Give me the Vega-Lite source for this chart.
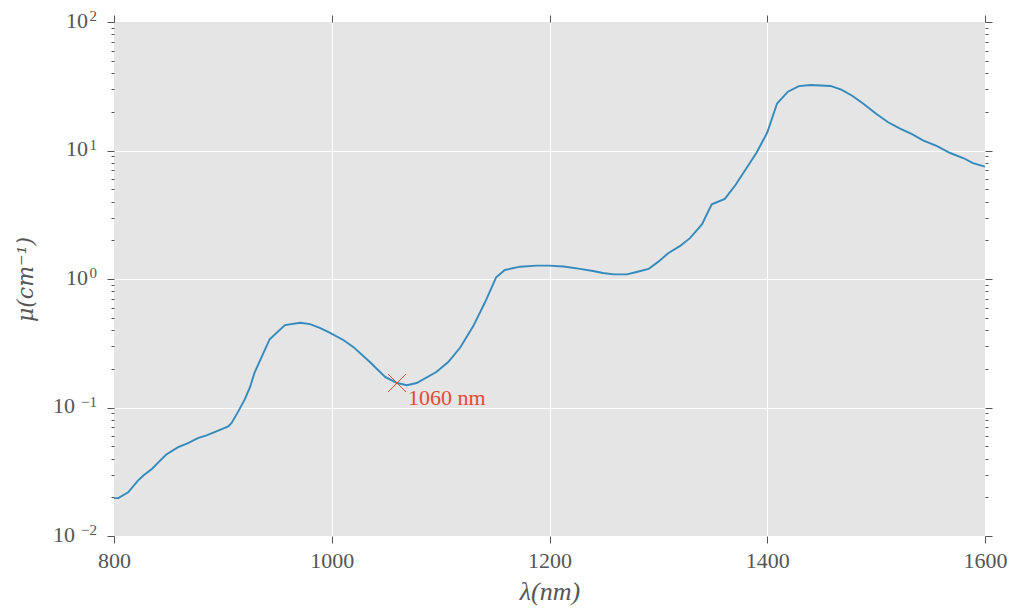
{
  "$schema": "https://vega.github.io/schema/vega-lite/v6.json",
  "width": 871,
  "height": 514,
  "autosize": "none",
  "padding": {"left": 114, "top": 22, "right": 25, "bottom": 72},
  "background": "white",
  "config": {
    "view": {"fill": "#E5E5E5", "stroke": null},
    "font": "Liberation Serif"
  },
  "datasets": {
    "absorption": [
      {"nm": 800, "mu": 0.0197}, {"nm": 804, "mu": 0.0197}, {"nm": 813, "mu": 0.0219},
      {"nm": 822, "mu": 0.027}, {"nm": 827, "mu": 0.0296}, {"nm": 835, "mu": 0.0334},
      {"nm": 841, "mu": 0.0376}, {"nm": 848, "mu": 0.0431}, {"nm": 859, "mu": 0.0492},
      {"nm": 868, "mu": 0.0529}, {"nm": 877, "mu": 0.0578}, {"nm": 885, "mu": 0.0607},
      {"nm": 894, "mu": 0.0652}, {"nm": 905, "mu": 0.0713}, {"nm": 908, "mu": 0.0757},
      {"nm": 913, "mu": 0.0896}, {"nm": 920, "mu": 0.115}, {"nm": 925, "mu": 0.1445},
      {"nm": 929, "mu": 0.186}, {"nm": 937, "mu": 0.263}, {"nm": 943, "mu": 0.34},
      {"nm": 957, "mu": 0.438}, {"nm": 971, "mu": 0.456}, {"nm": 980, "mu": 0.446},
      {"nm": 989, "mu": 0.417}, {"nm": 998, "mu": 0.383}, {"nm": 1011, "mu": 0.334},
      {"nm": 1020, "mu": 0.295}, {"nm": 1035, "mu": 0.226}, {"nm": 1049, "mu": 0.173},
      {"nm": 1060, "mu": 0.155}, {"nm": 1069, "mu": 0.149}, {"nm": 1078, "mu": 0.155},
      {"nm": 1096, "mu": 0.189}, {"nm": 1107, "mu": 0.226}, {"nm": 1118, "mu": 0.293},
      {"nm": 1130, "mu": 0.43}, {"nm": 1141, "mu": 0.665}, {"nm": 1151, "mu": 1.03},
      {"nm": 1159, "mu": 1.175}, {"nm": 1173, "mu": 1.247}, {"nm": 1188, "mu": 1.27},
      {"nm": 1199, "mu": 1.27}, {"nm": 1213, "mu": 1.25}, {"nm": 1228, "mu": 1.2},
      {"nm": 1240, "mu": 1.154}, {"nm": 1249, "mu": 1.114}, {"nm": 1259, "mu": 1.087},
      {"nm": 1271, "mu": 1.087}, {"nm": 1280, "mu": 1.134}, {"nm": 1291, "mu": 1.197},
      {"nm": 1300, "mu": 1.365}, {"nm": 1309, "mu": 1.586}, {"nm": 1320, "mu": 1.81},
      {"nm": 1329, "mu": 2.08}, {"nm": 1340, "mu": 2.66}, {"nm": 1349, "mu": 3.81},
      {"nm": 1361, "mu": 4.2}, {"nm": 1371, "mu": 5.41}, {"nm": 1381, "mu": 7.3},
      {"nm": 1390, "mu": 9.56}, {"nm": 1400, "mu": 13.8}, {"nm": 1409, "mu": 23.2},
      {"nm": 1419, "mu": 28.7}, {"nm": 1429, "mu": 31.7}, {"nm": 1440, "mu": 32.3},
      {"nm": 1458, "mu": 31.8}, {"nm": 1468, "mu": 29.8}, {"nm": 1478, "mu": 26.7},
      {"nm": 1488, "mu": 23.2}, {"nm": 1500, "mu": 19.3}, {"nm": 1511, "mu": 16.6},
      {"nm": 1522, "mu": 14.8}, {"nm": 1533, "mu": 13.4}, {"nm": 1543, "mu": 12.0},
      {"nm": 1556, "mu": 10.8}, {"nm": 1568, "mu": 9.56}, {"nm": 1580, "mu": 8.74},
      {"nm": 1589, "mu": 7.98}, {"nm": 1600, "mu": 7.5}
    ],
    "marker": [
      {"nm": 1060, "mu": 0.155, "label": "1060 nm"}
    ],
    "decades": [
      {"mu": 100, "base": "10", "exponent": "2"},
      {"mu": 10, "base": "10", "exponent": "1"},
      {"mu": 1, "base": "10", "exponent": "0"},
      {"mu": 0.1, "base": "10", "exponent": "−1"},
      {"mu": 0.01, "base": "10", "exponent": "−2"}
    ]
  },
  "layer": [
    {
      "data": {"name": "absorption"},
      "mark": {"type": "line", "color": "#348ABD", "strokeWidth": 1.9},
      "encoding": {
        "x": {
          "field": "nm", "type": "quantitative",
          "scale": {"domain": [800, 1600], "nice": false, "zero": false},
          "axis": {
            "orient": "bottom",
            "values": [800, 1000, 1200, 1400, 1600],
            "format": "d",
            "title": "λ(nm)",
            "domain": false,
            "grid": true,
            "gridColor": "white",
            "gridWidth": 1,
            "gridOpacity": {"condition": {"test": "datum.value > 800 && datum.value < 1600", "value": 1}, "value": 0},
            "tickColor": "#555555",
            "tickSize": 7,
            "tickWidth": 1,
            "labelFlush": false,
            "labelFont": "Liberation Serif",
            "labelFontSize": 22,
            "labelColor": "#555555",
            "labelPadding": 7,
            "titleFont": "Liberation Serif",
            "titleFontStyle": "italic",
            "titleFontWeight": "normal",
            "titleFontSize": 26,
            "titleColor": "#555555",
            "titlePadding": 7
          }
        },
        "y": {
          "field": "mu", "type": "quantitative",
          "scale": {"type": "log", "domain": [0.01, 100], "nice": false},
          "axis": {
            "orient": "left",
            "values": [0.01, 0.02, 0.03, 0.04, 0.05, 0.06, 0.07, 0.08, 0.09,
                       0.1, 0.2, 0.3, 0.4, 0.5, 0.6, 0.7, 0.8, 0.9,
                       1, 2, 3, 4, 5, 6, 7, 8, 9,
                       10, 20, 30, 40, 50, 60, 70, 80, 90, 100],
            "labels": false,
            "title": "μ(cm⁻¹)",
            "domain": false,
            "grid": true,
            "gridColor": "white",
            "gridWidth": 1,
            "gridOpacity": {"condition": {"test": "datum.value == 10 || datum.value == 1 || datum.value == 0.1", "value": 1}, "value": 0},
            "tickColor": "#555555",
            "tickSize": {"condition": {"test": "datum.value == 100 || datum.value == 10 || datum.value == 1 || datum.value == 0.1 || datum.value == 0.01", "value": 7}, "value": 3},
            "tickWidth": 1,
            "titleFont": "DejaVu Serif",
            "titleFontStyle": "italic",
            "titleFontWeight": "normal",
            "titleFontSize": 22,
            "titleColor": "#555555",
            "titlePadding": 69
          }
        }
      }
    },
    {
      "data": {"name": "marker"},
      "mark": {"type": "point", "shape": "M-1,-1L1,1M-1,1L1,-1", "size": 324, "filled": false, "stroke": "#E24A33", "strokeWidth": 1, "opacity": 1},
      "encoding": {
        "x": {
          "field": "nm", "type": "quantitative",
          "axis": {
            "orient": "top",
            "values": [800, 1000, 1200, 1400, 1600],
            "labels": false,
            "title": null,
            "domain": false,
            "grid": false,
            "tickColor": "#555555",
            "tickSize": 7,
            "tickWidth": 1
          }
        },
        "y": {
          "field": "mu", "type": "quantitative",
          "axis": {
            "orient": "right",
            "values": [0.01, 0.02, 0.03, 0.04, 0.05, 0.06, 0.07, 0.08, 0.09,
                       0.1, 0.2, 0.3, 0.4, 0.5, 0.6, 0.7, 0.8, 0.9,
                       1, 2, 3, 4, 5, 6, 7, 8, 9,
                       10, 20, 30, 40, 50, 60, 70, 80, 90, 100],
            "labels": false,
            "title": null,
            "domain": false,
            "grid": false,
            "tickColor": "#555555",
            "tickSize": {"condition": {"test": "datum.value == 100 || datum.value == 10 || datum.value == 1 || datum.value == 0.1 || datum.value == 0.01", "value": 7}, "value": 3},
            "tickWidth": 1
          }
        }
      }
    },
    {
      "data": {"name": "marker"},
      "mark": {"type": "text", "color": "#E24A33", "font": "Liberation Serif", "fontSize": 22, "align": "left", "baseline": "alphabetic", "dx": 11, "dy": 22},
      "encoding": {
        "x": {"field": "nm", "type": "quantitative", "axis": null},
        "y": {"field": "mu", "type": "quantitative", "axis": null},
        "text": {"field": "label"}
      }
    },
    {
      "data": {"name": "decades"},
      "transform": [{"filter": "datum.mu >= 1"}],
      "mark": {"type": "text", "color": "#555555", "font": "Liberation Serif", "fontSize": 22, "align": "right", "baseline": "alphabetic", "dx": -26, "dy": 5.5},
      "encoding": {
        "x": {"datum": 800, "type": "quantitative", "axis": null},
        "y": {"field": "mu", "type": "quantitative", "axis": null},
        "text": {"field": "base"}
      }
    },
    {
      "data": {"name": "decades"},
      "transform": [{"filter": "datum.mu < 1"}],
      "mark": {"type": "text", "color": "#555555", "font": "Liberation Serif", "fontSize": 22, "align": "right", "baseline": "alphabetic", "dx": -39, "dy": 5.5},
      "encoding": {
        "x": {"datum": 800, "type": "quantitative", "axis": null},
        "y": {"field": "mu", "type": "quantitative", "axis": null},
        "text": {"field": "base"}
      }
    },
    {
      "data": {"name": "decades"},
      "mark": {"type": "text", "color": "#555555", "font": "Liberation Serif", "fontSize": 15, "align": "right", "baseline": "alphabetic", "dx": -17, "dy": -1},
      "encoding": {
        "x": {"datum": 800, "type": "quantitative", "axis": null},
        "y": {"field": "mu", "type": "quantitative", "axis": null},
        "text": {"field": "exponent"}
      }
    }
  ],
  "resolve": {"axis": {"x": "independent", "y": "independent"}}
}
